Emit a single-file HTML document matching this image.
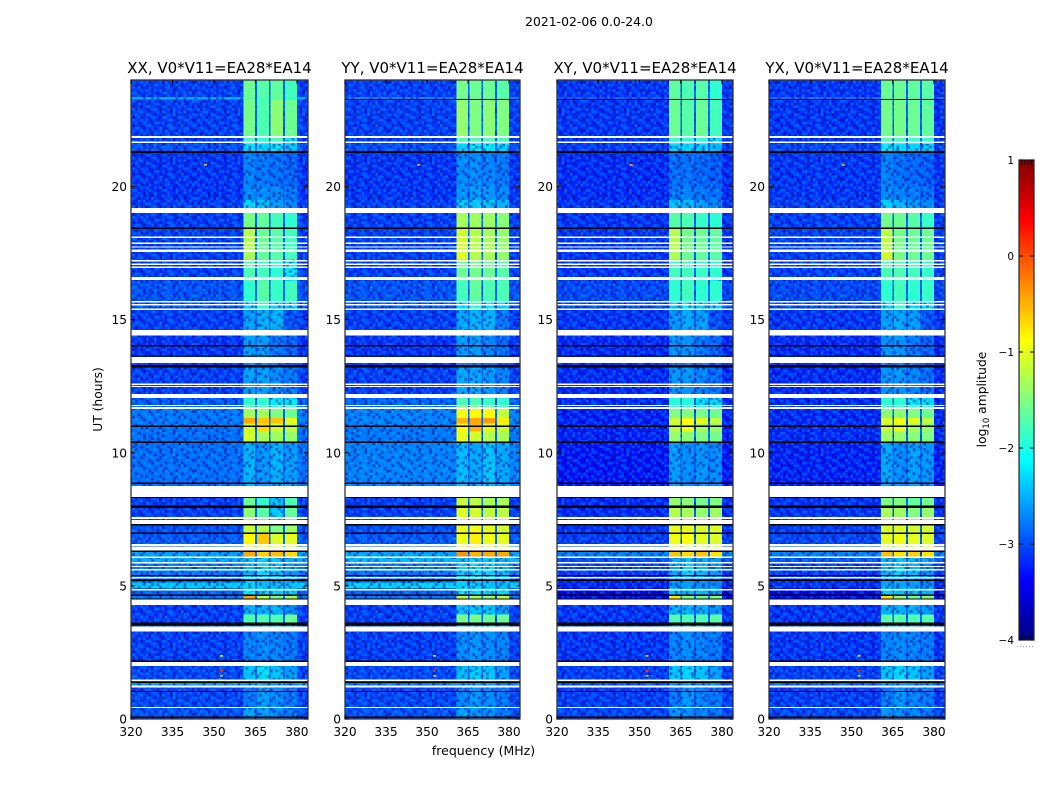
<!DOCTYPE html>
<html>
<head>
<meta charset="utf-8">
<title>2021-02-06 0.0-24.0</title>
<style>
html,body{margin:0;padding:0;background:#fff;}
svg{display:block;}
text{font-family:"DejaVu Sans","Liberation Sans",sans-serif;fill:#000;}
</style>
</head>
<body>
<svg id="chart" xmlns="http://www.w3.org/2000/svg" width="1050" height="800" viewBox="0 0 1050 800">
<defs>
<pattern id="speckle" patternUnits="userSpaceOnUse" width="64.8" height="48.6"></pattern>
<linearGradient id="jet-gradient" x1="0" y1="1" x2="0" y2="0"></linearGradient>
</defs>
<text x="589" y="26" font-size="12.4" text-anchor="middle">2021-02-06 0.0-24.0</text>
<text transform="translate(102,399.5) rotate(-90)" font-size="12.3" text-anchor="middle">UT (hours)</text>
<text x="483.5" y="755" font-size="12.5" text-anchor="middle">frequency (MHz)</text>
<g id="panels"></g>
<g id="colorbar"></g>
<text transform="translate(986,399.5) rotate(-90)" font-size="12.3" text-anchor="middle">log<tspan font-size="8.5" dy="3">10</tspan><tspan dy="-3"> amplitude</tspan></text>
</svg>
<script>
// ---------- Data (log10 amplitude) ----------
const panelTitles = ["XX, V0*V11=EA28*EA14","YY, V0*V11=EA28*EA14","XY, V0*V11=EA28*EA14","YX, V0*V11=EA28*EA14"];
const freqTicks = [320,335,350,365,380];
const hourTicks = [0,5,10,15,20];
const colorTicks = [1,0,-1,-2,-3,-4];
const channelEdges = [320,360.7,364.9,365.5,369.9,370.5,374.9,375.6,380,384];
const channelRole = [0,1,-1,2,-1,3,-1,4,0];
const gapLevel = -2.9;
const timeEdges = [24,23.37,23.27,21.9,21.6,21.3,20,19.5,19.0,18.45,17.6,17.25,16.6,16.45,15.7,15.4,14.6,13.65,13.25,12.2,11.8,11.65,11.3,11.1,10.8,10.4,8.76,8.34,8.0,7.6,7.32,7.0,6.57,6.32,6.1,5.87,5.41,5.12,4.92,4.68,4.49,4.29,3.92,3.57,3.28,2.2,2.0,1.5,1.42,1.25,0.45,0];
const flaggedHours = [[21.82,21.90],[21.63,21.69],[19.00,19.20],[18.07,18.12],[17.84,17.90],[17.71,17.75],[17.54,17.63],[17.18,17.24],[17.05,17.11],[16.94,17.00],[16.49,16.60],[15.64,15.70],[15.53,15.59],[15.36,15.42],[14.40,14.61],[13.37,13.60],[12.55,12.60],[12.47,12.51],[12.06,12.21],[11.75,11.80],[11.65,11.71],[8.34,8.76],[7.51,7.59],[7.32,7.47],[6.50,6.57],[6.32,6.47],[6.04,6.10],[5.85,5.89],[5.70,5.75],[5.60,5.63],[5.30,5.33],[4.83,4.88],[4.29,4.49],[3.28,3.47],[1.99,2.15],[1.43,1.49],[1.19,1.25],[0.41,0.45]];
const deadHours = [[21.26,21.33],[18.40,18.46],[13.99,14.05],[13.61,13.65],[13.21,13.30],[10.97,11.02],[10.37,10.42],[8.83,8.88],[8.30,8.34],[7.92,8.02],[7.27,7.32],[6.95,7.00],[6.28,6.32],[5.37,5.41],[5.18,5.24],[4.62,4.68],[4.49,4.53],[3.51,3.62],[2.15,2.20],[1.35,1.40],[1.01,1.06],[0.04,0.09]];
const extraDeadPanels = [1,2,3];
const extraDeadHours = [23.24,23.29];
const xxLevels = [[-3.1,-1.6,-1.7,-1.65,-1.8],[-2.5,-1.7,-1.8,-1.7,-1.9],[-3.1,-1.55,-1.75,-1.45,-1.6],[-3.1,-1.8,-1.9,-1.8,-2.2],[-3.0,-2.25,-2.3,-2.2,-2.4],[-3.15,-2.75,-2.8,-2.85,-2.9],[-3.15,-2.7,-2.7,-2.7,-2.8],[-3.1,-2.3,-2.4,-2.6,-2.7],[-3.1,-1.55,-1.65,-1.8,-1.9],[-3.1,-1.25,-1.6,-1.7,-1.8],[-3.1,-1.3,-1.65,-1.7,-1.8],[-3.1,-1.75,-1.8,-1.9,-2.2],[-3.1,-1.8,-1.8,-1.9,-2.2],[-3.0,-1.9,-1.7,-1.85,-1.8],[-3.0,-2.3,-1.9,-2.3,-2.3],[-3.1,-2.6,-2.5,-2.5,-3.0],[-3.15,-2.6,-2.6,-2.8,-2.9],[-3.1,-2.7,-2.7,-2.8,-2.9],[-3.1,-2.6,-2.6,-2.7,-2.8],[-2.95,-1.9,-1.9,-2.2,-2.2],[-2.85,-1.7,-1.7,-1.8,-1.8],[-2.8,-1.35,-1.35,-1.5,-1.6],[-2.8,-0.45,-0.6,-0.6,-1.0],[-2.85,-1.1,-0.7,-1.1,-1.2],[-2.85,-1.1,-1.3,-1.35,-1.4],[-2.85,-2.5,-2.65,-2.5,-2.6],[-2.95,-2.5,-2.6,-2.5,-2.6],[-3.1,-1.6,-1.9,-2.4,-1.75],[-3.1,-1.45,-1.7,-2.35,-1.65],[-3.1,-1.45,-1.7,-2.3,-1.65],[-3.0,-1.15,-1.25,-1.5,-1.35],[-2.95,-0.85,-0.6,-1.05,-1.0],[-2.95,-1.0,-0.9,-1.1,-1.1],[-2.6,-0.45,-0.65,-0.55,-0.7],[-2.5,-2.4,-2.3,-2.4,-2.5],[-2.8,-2.5,-2.25,-2.4,-2.6],[-3.0,-2.4,-2.5,-2.5,-2.6],[-2.35,-2.3,-2.4,-2.4,-2.4],[-2.9,-2.2,-2.3,-2.3,-2.3],[-2.8,-0.45,-1.2,-1.5,-1.3],[-3.0,-2.2,-2.3,-2.3,-2.3],[-3.1,-2.5,-2.5,-2.5,-2.7],[-3.1,-1.75,-1.75,-1.75,-1.6],[-3.1,-2.5,-2.5,-2.5,-2.6],[-3.1,-2.75,-2.7,-2.75,-2.8],[-3.05,-2.6,-2.5,-2.6,-2.7],[-3.05,-2.4,-2.25,-2.4,-2.6],[-3.0,-2.6,-2.6,-2.6,-2.7],[-2.6,-2.6,-2.6,-2.6,-2.7],[-3.05,-2.8,-2.6,-2.7,-2.8],[-3.0,-2.6,-2.6,-2.7,-2.8]];
const yyLevels = [[-3.1,-1.55,-1.6,-1.6,-1.7],[-2.7,-1.7,-1.7,-1.7,-1.8],[-3.1,-1.4,-1.5,-1.45,-1.5],[-3.1,-1.7,-1.75,-1.75,-1.8],[-3.0,-2.3,-2.2,-2.2,-2.3],[-3.15,-2.7,-2.7,-2.75,-2.8],[-3.15,-2.65,-2.6,-2.65,-2.7],[-3.1,-2.35,-2.35,-2.4,-2.5],[-3.1,-1.3,-1.35,-1.35,-1.45],[-3.1,-1.1,-1.25,-1.3,-1.4],[-3.1,-1.05,-1.25,-1.3,-1.4],[-3.1,-1.6,-1.55,-1.6,-1.7],[-3.1,-1.7,-1.6,-1.7,-1.8],[-3.0,-1.8,-1.65,-1.75,-1.75],[-3.0,-2.25,-1.9,-2.2,-2.3],[-3.1,-2.55,-2.5,-2.5,-2.8],[-3.15,-2.6,-2.6,-2.75,-2.85],[-3.1,-2.7,-2.7,-2.8,-2.9],[-3.1,-2.55,-2.55,-2.65,-2.75],[-2.9,-1.75,-1.75,-1.85,-1.9],[-2.8,-1.5,-1.5,-1.6,-1.7],[-2.75,-0.95,-0.85,-0.9,-1.2],[-2.75,-0.5,-0.45,-0.4,-0.8],[-2.8,-0.85,-0.5,-1.0,-1.1],[-2.8,-1.0,-1.1,-1.25,-1.3],[-2.75,-2.45,-2.55,-2.4,-2.55],[-2.95,-2.5,-2.6,-2.5,-2.6],[-3.1,-1.15,-1.2,-1.3,-1.3],[-3.1,-1.05,-1.1,-1.2,-1.2],[-3.1,-1.05,-1.1,-1.2,-1.2],[-3.0,-0.95,-0.95,-1.0,-1.1],[-2.95,-0.95,-0.8,-0.95,-1.0],[-2.95,-1.0,-0.9,-1.0,-1.05],[-2.55,-0.35,-0.5,-0.45,-0.45],[-2.45,-2.4,-2.3,-2.3,-2.4],[-2.8,-2.35,-2.25,-2.3,-2.45],[-3.0,-2.35,-2.4,-2.4,-2.5],[-2.3,-2.3,-2.35,-2.4,-2.4],[-2.9,-2.2,-2.25,-2.25,-2.3],[-2.8,-1.2,-1.3,-1.4,-1.2],[-3.0,-2.2,-2.25,-2.25,-2.3],[-3.1,-2.4,-2.4,-2.4,-2.6],[-3.1,-1.55,-1.55,-1.6,-1.6],[-3.1,-2.4,-2.4,-2.4,-2.5],[-3.1,-2.7,-2.65,-2.7,-2.75],[-3.05,-2.6,-2.5,-2.6,-2.7],[-3.05,-2.45,-2.35,-2.4,-2.6],[-3.0,-2.6,-2.6,-2.6,-2.7],[-2.8,-2.65,-2.6,-2.6,-2.75],[-3.05,-2.75,-2.65,-2.7,-2.8],[-3.0,-2.6,-2.65,-2.7,-2.8]];
const xyLevels = [[-3.15,-1.65,-1.75,-1.7,-1.9],[-2.9,-1.75,-1.8,-1.75,-1.95],[-3.15,-1.6,-1.7,-1.6,-1.8],[-3.15,-1.85,-1.9,-1.9,-2.25],[-3.1,-2.3,-2.3,-2.3,-2.45],[-3.2,-2.85,-2.85,-2.9,-2.95],[-3.2,-2.8,-2.75,-2.8,-2.85],[-3.15,-2.4,-2.45,-2.6,-2.7],[-3.15,-1.7,-1.75,-1.85,-1.9],[-3.15,-1.25,-1.55,-1.6,-1.65],[-3.15,-1.3,-1.6,-1.65,-1.7],[-3.15,-1.8,-1.8,-1.85,-1.9],[-3.15,-1.9,-1.85,-1.9,-2.2],[-3.05,-1.9,-1.8,-1.9,-1.9],[-3.05,-2.35,-2.2,-2.35,-2.35],[-3.15,-2.65,-2.55,-2.6,-3.0],[-3.2,-2.65,-2.65,-2.8,-2.9],[-3.15,-2.75,-2.75,-2.8,-2.9],[-3.2,-2.65,-2.65,-2.75,-2.85],[-3.2,-1.95,-1.95,-2.25,-2.3],[-3.2,-1.8,-1.8,-1.9,-1.9],[-3.25,-1.5,-1.5,-1.55,-1.6],[-3.25,-1.1,-0.9,-1.0,-1.2],[-3.25,-1.2,-0.95,-1.3,-1.4],[-3.25,-1.4,-1.45,-1.5,-1.55],[-3.3,-2.6,-2.7,-2.65,-2.7],[-3.3,-2.6,-2.7,-2.65,-2.7],[-3.2,-1.4,-1.45,-1.55,-1.5],[-3.2,-1.25,-1.3,-1.4,-1.35],[-3.2,-1.25,-1.3,-1.4,-1.35],[-3.15,-1.0,-1.0,-1.05,-1.05],[-3.1,-0.95,-0.9,-1.0,-1.05],[-3.1,-1.05,-1.0,-1.05,-1.1],[-2.75,-0.6,-0.7,-0.6,-0.75],[-3.0,-2.5,-2.4,-2.5,-2.6],[-3.1,-2.55,-2.3,-2.45,-2.65],[-3.25,-2.65,-2.6,-2.65,-2.75],[-3.2,-2.65,-2.6,-2.65,-2.75],[-3.5,-2.4,-2.45,-2.45,-2.55],[-3.4,-0.8,-1.5,-1.6,-1.5],[-3.2,-2.4,-2.4,-2.5,-2.6],[-3.15,-2.5,-2.5,-2.5,-2.65],[-3.15,-1.75,-1.75,-1.75,-1.7],[-3.15,-2.5,-2.5,-2.5,-2.6],[-3.15,-2.75,-2.7,-2.75,-2.8],[-3.1,-2.6,-2.55,-2.6,-2.7],[-3.1,-2.4,-2.3,-2.4,-2.6],[-3.1,-2.6,-2.6,-2.6,-2.7],[-3.0,-2.7,-2.65,-2.7,-2.75],[-3.1,-2.8,-2.65,-2.75,-2.8],[-3.05,-2.65,-2.7,-2.75,-2.8]];
const yxLevels = [[-3.15,-1.6,-1.6,-1.65,-1.7],[-2.8,-1.7,-1.7,-1.75,-1.8],[-3.15,-1.55,-1.55,-1.6,-1.65],[-3.15,-1.75,-1.8,-1.85,-1.9],[-3.05,-2.2,-2.25,-2.3,-2.35],[-3.15,-2.75,-2.85,-2.9,-2.95],[-3.15,-2.7,-2.75,-2.8,-2.85],[-3.1,-2.35,-2.45,-2.6,-2.7],[-3.1,-1.55,-1.6,-1.7,-1.85],[-3.1,-1.2,-1.55,-1.6,-1.6],[-3.1,-1.1,-1.55,-1.6,-1.6],[-3.1,-1.75,-1.75,-1.8,-1.85],[-3.1,-1.85,-1.8,-1.85,-1.95],[-3.05,-1.9,-1.8,-1.9,-1.85],[-3.05,-2.25,-1.9,-2.25,-2.25],[-3.15,-2.6,-2.55,-2.6,-3.0],[-3.2,-2.65,-2.65,-2.8,-2.9],[-3.15,-2.75,-2.75,-2.8,-2.9],[-3.2,-2.65,-2.65,-2.75,-2.85],[-3.2,-1.9,-1.9,-2.2,-2.25],[-3.15,-1.75,-1.75,-1.85,-1.85],[-3.2,-1.45,-1.45,-1.5,-1.6],[-3.2,-1.05,-0.95,-1.0,-1.2],[-3.2,-1.15,-1.0,-1.3,-1.4],[-3.2,-1.35,-1.4,-1.45,-1.5],[-3.25,-2.55,-2.7,-2.6,-2.65],[-3.25,-2.55,-2.7,-2.6,-2.65],[-3.15,-1.5,-1.5,-1.65,-1.55],[-3.15,-1.3,-1.35,-1.5,-1.4],[-3.15,-1.3,-1.35,-1.5,-1.4],[-3.1,-1.05,-1.05,-1.1,-1.1],[-3.05,-1.0,-0.95,-1.0,-1.05],[-3.05,-1.1,-1.05,-1.1,-1.1],[-2.75,-0.55,-0.75,-0.65,-0.75],[-2.95,-2.45,-2.35,-2.45,-2.55],[-3.1,-2.5,-2.3,-2.45,-2.65],[-3.2,-2.55,-2.55,-2.6,-2.7],[-3.15,-2.55,-2.55,-2.6,-2.7],[-3.45,-2.35,-2.4,-2.4,-2.5],[-3.35,-0.75,-1.4,-1.6,-1.45],[-3.15,-2.35,-2.4,-2.45,-2.55],[-3.15,-2.5,-2.5,-2.5,-2.65],[-3.15,-1.7,-1.7,-1.75,-1.7],[-3.15,-2.5,-2.5,-2.5,-2.6],[-3.15,-2.75,-2.7,-2.75,-2.8],[-3.1,-2.6,-2.55,-2.6,-2.7],[-3.1,-2.4,-2.3,-2.4,-2.6],[-3.1,-2.6,-2.6,-2.6,-2.7],[-2.9,-2.7,-2.65,-2.7,-2.75],[-3.1,-2.8,-2.65,-2.75,-2.8],[-3.05,-2.65,-2.7,-2.75,-2.8]];
const panelLevels = [xxLevels,yyLevels,xyLevels,yxLevels];
const hotFreqs = [346.4,352.2,352.2,352.2];
const hotHours = [20.84,2.4,1.84,1.65];
const hotValues = [-0.6,-1.0,0.1,-0.6];
const speckleRows = ["102021001210302001201020","320100213001020310021003","001302100220103002130120","210010320010221000302001","031200102301002130010230","100230010021300120203100","203001320100102031001002","010210003201230010320120","130020210010002301002301","002103001230210010210020","210010230001003200131002","003201002103010320002310","120030210002130001203001","301002001320002103010020","020310120001023001300213","100020301203100210020100","032100020010230013002031","200301210300102002103000"];

// ---------- Layout and axis functions ----------
const NS = "http://www.w3.org/2000/svg";
const plotTop = 80, plotBottom = 719;
const panelLeft = [131,345,557,769];
const panelRight = [308,520,733,945];
function xScale(p, f){ return panelLeft[p] + (f-320)/(384-320)*(panelRight[p]-panelLeft[p]); }
function yScale(h){ return plotBottom - h/24*(plotBottom-plotTop); }
function jet(v){
  const t = Math.max(0,Math.min(1,(v+4)/5));
  const ch = x => Math.round(255*Math.max(0,Math.min(1,1.5-Math.abs(4*t-x))));
  return "rgb("+ch(3)+","+ch(2)+","+ch(1)+")";
}
function mk(tag, attrs, parent){
  const el = document.createElementNS(NS, tag);
  for(const k in attrs) el.setAttribute(k, attrs[k]);
  parent.appendChild(el);
  return el;
}

// speckle texture tile
const speckleFill = {"1":"#00007a","2":"#0090ff","3":"#00e0ff"};
const speckleAlpha = {"1":0.45,"2":0.4,"3":0.3};
const speckle = document.getElementById("speckle");
speckleRows.forEach((row,r)=>{
  row.split("").forEach((c,i)=>{
    if(c==="0") return;
    mk("rect",{x:i*2.7,y:r*2.7,width:2.7,height:2.7,fill:speckleFill[c],"fill-opacity":speckleAlpha[c]},speckle);
  });
});

const panelsG = document.getElementById("panels");
panelTitles.forEach((title,p)=>{
  const g = mk("g",{},panelsG);
  
  
  const levels = panelLevels[p];
  // heatmap cells
  for(let s=0;s<timeEdges.length-1;s++){
    for(let c=0;c<channelRole.length;c++){
      const role = channelRole[c];
      const v = role<0 ? gapLevel : levels[s][role];
      const x0 = xScale(p,channelEdges[c]), x1 = xScale(p,channelEdges[c+1]);
      const y0 = yScale(timeEdges[s]), y1 = yScale(timeEdges[s+1]);
      const cell = mk("rect",{x:x0,y:y0,width:x1-x0,height:y1-y0,fill:jet(v),"shape-rendering":"crispEdges"},g);
      
      
      if(v < -2.0){
        const tex = mk("rect",{x:x0,y:y0,width:x1-x0,height:y1-y0,fill:"url(#speckle)","shape-rendering":"crispEdges"},g);
        
        
      }
    }
  }
  hotFreqs.forEach((f,i)=>{
    const spot = mk("rect",{x:xScale(p,f),y:yScale(hotHours[i]),width:3,height:1.5,fill:jet(hotValues[i])},g);
    
    
  });
  flaggedHours.forEach(h=>{
    const y0 = yScale(h[1]), y1 = yScale(h[0]);
    const band = mk("rect",{x:panelLeft[p],y:y0,width:panelRight[p]-panelLeft[p],height:Math.max(1.2,y1-y0),fill:"#fff","shape-rendering":"crispEdges"},g);
    
    
  });
  deadHours.forEach(h=>{
    const y0 = yScale(h[1]), y1 = yScale(h[0]);
    const band = mk("rect",{x:panelLeft[p],y:y0,width:panelRight[p]-panelLeft[p],height:Math.max(1,y1-y0),fill:"#000","shape-rendering":"crispEdges"},g);
    
    
  });
  if(extraDeadPanels.includes(p)){
    const y0 = yScale(extraDeadHours[1]), y1 = yScale(extraDeadHours[0]);
    const band = mk("rect",{x:panelLeft[p],y:y0,width:panelRight[p]-panelLeft[p],height:Math.max(1,y1-y0),fill:"#000","shape-rendering":"crispEdges"},g);
    
    
  }
  // frame
  const frame = mk("rect",{x:panelLeft[p],y:plotTop,width:panelRight[p]-panelLeft[p],height:plotBottom-plotTop,fill:"none",stroke:"#333","stroke-width":1.3},g);
  
  
  // title
  const t = mk("text",{x:(panelLeft[p]+panelRight[p])/2,y:73,"font-size":15,"text-anchor":"middle"},g);
  t.textContent = title;
  
  
  // x ticks
  freqTicks.forEach(f=>{
    const x = xScale(p,f);
    const a = mk("line",{x1:x,x2:x,y1:plotBottom,y2:plotBottom-4,stroke:"#000","stroke-width":1},g);
    
    
    const b = mk("line",{x1:x,x2:x,y1:plotTop,y2:plotTop+4,stroke:"#000","stroke-width":1},g);
    
    
    const l = mk("text",{x:x,y:736,"font-size":12.2,"text-anchor":"middle"},g);
    l.textContent = f;
    
    
  });
  // y ticks
  hourTicks.forEach(h=>{
    const y = yScale(h);
    const a = mk("line",{x1:panelLeft[p],x2:panelLeft[p]+4,y1:y,y2:y,stroke:"#000","stroke-width":1},g);
    
    
    const b = mk("line",{x1:panelRight[p],x2:panelRight[p]-4,y1:y,y2:y,stroke:"#000","stroke-width":1},g);
    
    
    const l = mk("text",{x:panelLeft[p]-4,y:y+4.5,"font-size":12.2,"text-anchor":"end"},g);
    l.textContent = h;
    
    
  });
});

// ---------- Colorbar ----------
const cbX = 1019, cbW = 15, cbTop = 160, cbBottom = 640;
function cbScale(v){ return cbBottom - (v+4)/5*(cbBottom-cbTop); }
const grad = document.getElementById("jet-gradient");
for(let i=0;i<=32;i++){
  mk("stop",{offset:(i/32),"stop-color":jet(-4+5*i/32)},grad);
}
const cb = document.getElementById("colorbar");
const cbRect = mk("rect",{x:cbX,y:cbTop,width:cbW,height:cbBottom-cbTop,fill:"url(#jet-gradient)",stroke:"#222","stroke-width":1.2},cb);


colorTicks.forEach(v=>{
  const y = cbScale(v);
  const a = mk("line",{x1:cbX,x2:cbX+4,y1:y,y2:y,stroke:"#000","stroke-width":1},cb);
  
  
  const b = mk("line",{x1:cbX+cbW,x2:cbX+cbW-4,y1:y,y2:y,stroke:"#000","stroke-width":1},cb);
  
  
  const l = mk("text",{x:cbX-5,y:y+4,"font-size":10.5,"text-anchor":"end"},cb);
  l.textContent = v<0 ? "\u2212"+Math.abs(v) : String(v);
  
  
});
[3,6,9,12].forEach(dx=>{
  const a = mk("line",{x1:cbX+dx,x2:cbX+dx,y1:cbTop,y2:cbTop+5,stroke:"#000","stroke-width":0.7},cb);
  
  
  const b = mk("line",{x1:cbX+dx,x2:cbX+dx,y1:cbBottom,y2:cbBottom-5,stroke:"#000","stroke-width":0.7},cb);
  
  
});
[0,3,6,9,12,15].forEach(dx=>{
  const d = mk("rect",{x:cbX-2+dx,y:646,width:1,height:1,fill:"#999"},cb);
  
  
});
</script>
</body>
</html>
